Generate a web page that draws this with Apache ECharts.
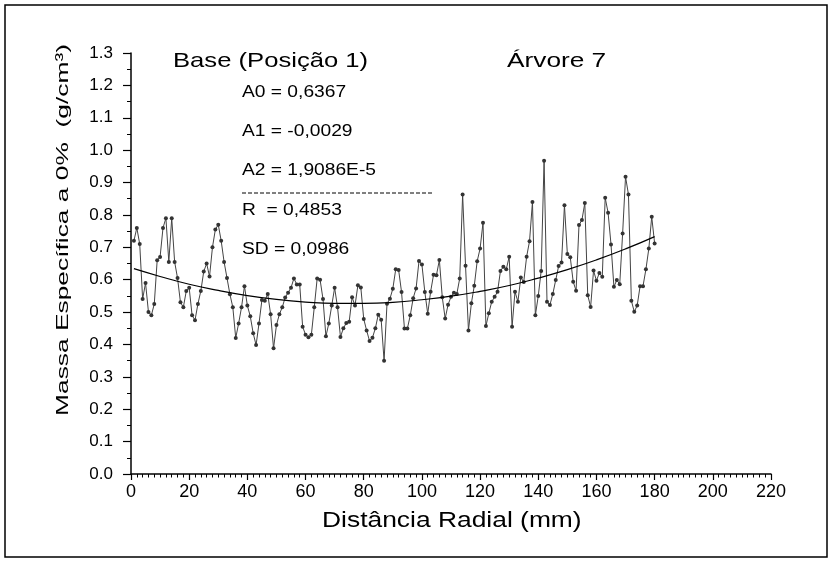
<!DOCTYPE html>
<html>
<head>
<meta charset="utf-8">
<script src="https://cdn.jsdelivr.net/npm/echarts@6/dist/echarts.min.js"></script>
<style>
html,body{margin:0;padding:0;background:#fff;}
#chart{width:830px;height:562px;}
</style>
</head>
<body>
<div id="chart"></div>
<script>
// Distância radial (mm)
const distancia = [1,2,3,4,5,6,7,8,9,10,11,12,13,14,15,16,17,18,19,20,
21,22,23,24,25,26,27,28,29,30,31,32,33,34,35,36,37,38,39,40,
41,42,43,44,45,46,47,48,49,50,51,52,53,54,55,56,57,58,59,60,
61,62,63,64,65,66,67,68,69,70,71,72,73,74,75,76,77,78,79,80,
81,82,83,84,85,86,87,88,89,90,91,92,93,94,95,96,97,98,99,100,
101,102,103,104,105,106,107,108,109,110,111,112,113,114,115,116,117,118,119,120,
121,122,123,124,125,126,127,128,129,130,131,132,133,134,135,136,137,138,139,140,
141,142,143,144,145,146,147,148,149,150,151,152,153,154,155,156,157,158,159,160,
161,162,163,164,165,166,167,168,169,170,171,172,173,174,175,176,177,178,179,180];
// Massa específica a 0% (g/cm³)
const massa = [0.72,0.76,0.71,0.54,0.59,0.50,0.49,0.525,0.66,0.67,
0.76,0.79,0.655,0.79,0.655,0.605,0.53,0.515,0.565,0.575,
0.49,0.475,0.525,0.565,0.625,0.65,0.61,0.70,0.755,0.77,
0.72,0.655,0.605,0.555,0.515,0.42,0.465,0.515,0.58,0.52,
0.487,0.435,0.398,0.465,0.537,0.535,0.556,0.493,0.388,0.46,
0.493,0.515,0.545,0.56,0.575,0.604,0.585,0.585,0.455,0.43,
0.422,0.43,0.515,0.604,0.60,0.54,0.425,0.465,0.52,0.575,
0.515,0.423,0.45,0.466,0.47,0.546,0.52,0.583,0.576,0.479,
0.443,0.411,0.421,0.45,0.492,0.476,0.35,0.526,0.541,0.572,
0.632,0.63,0.562,0.449,0.449,0.49,0.543,0.573,0.658,0.647,
0.562,0.495,0.563,0.615,0.614,0.661,0.546,0.48,0.523,0.547,
0.56,0.556,0.604,0.863,0.643,0.443,0.527,0.581,0.657,0.696,
0.776,0.457,0.496,0.532,0.547,0.563,0.627,0.64,0.632,0.671,
0.455,0.563,0.532,0.607,0.593,0.671,0.719,0.84,0.49,0.55,
0.627,0.967,0.532,0.522,0.556,0.599,0.642,0.653,0.83,0.679,
0.669,0.594,0.566,0.769,0.784,0.837,0.552,0.516,0.628,0.597,
0.621,0.609,0.853,0.807,0.709,0.578,0.599,0.586,0.743,0.918,
0.863,0.535,0.501,0.52,0.58,0.58,0.632,0.696,0.794,0.712];
const ajusteX = [1,10,20,30,40,50,60,70,80,90,100,110,120,130,140,150,160,170,180];
const ajusteY = [0.634,0.610,0.586,0.567,0.551,0.539,0.531,0.527,0.527,0.530,0.538,0.549,0.564,0.582,0.605,0.631,0.661,0.695,0.733];

const titulo = "Base (Posição 1)";
const arvore = "Árvore 7";
const coeficientes = ["A0 = 0,6367", "A1 = -0,0029", "A2 = 1,9086E-5", "R  = 0,4853", "SD = 0,0986"];
const nomeX = "Distância Radial (mm)";
const nomeY = "Massa Específica a 0%  (g/cm³)";

const font = "'Liberation Sans', Arial, sans-serif";
const chart = echarts.init(document.getElementById('chart'), null, {renderer:'canvas'});

const serie = distancia.map((x, i) => [x, massa[i]]);
const ajuste = ajusteX.map((x, i) => [x, ajusteY[i]]);

const coefY = [92.5, 132, 171, 211, 250];
const graphics = [
  {type:'rect', shape:{x:5, y:5, width:822, height:552}, style:{fill:'none', stroke:'#000', lineWidth:1.5}, silent:true},
  {type:'text', x:173, y:61, scaleX:1.22, style:{text:titulo, font:'21px ' + font, fill:'#000', textVerticalAlign:'middle'}},
  {type:'text', x:507, y:61, scaleX:1.25, style:{text:arvore, font:'21px ' + font, fill:'#000', textVerticalAlign:'middle'}},
  {type:'line', shape:{x1:242, y1:193, x2:433, y2:193}, style:{stroke:'#000', lineWidth:1, lineDash:[4,2]}},
  {type:'text', x:322, y:521, scaleX:1.2, style:{text:nomeX, font:'22px ' + font, fill:'#000', textVerticalAlign:'middle'}},
  {type:'text', x:63, y:230, rotation:Math.PI/2, scaleX:1.55, style:{text:nomeY, font:'17px ' + font, fill:'#000', textAlign:'center', textVerticalAlign:'middle'}}
];
coeficientes.forEach((t, i) => {
  graphics.push({type:'text', x:242, y:coefY[i], scaleX:1.2, style:{text:t, font:'16px ' + font, fill:'#000', textVerticalAlign:'middle'}});
});

chart.setOption({
  animation:false,
  backgroundColor:'#fff',
  grid:{left:131, top:53, right:59, bottom:88, containLabel:false},
  xAxis:{
    type:'value', min:0, max:220, interval:20,
    axisLine:{show:true, onZero:false, lineStyle:{color:'#000', width:1.5}},
    axisTick:{show:true, length:6, lineStyle:{color:'#000', width:1.2}},
    minorTick:{show:true, splitNumber:10, length:3.5, lineStyle:{color:'#000', width:1}},
    splitLine:{show:false},
    axisLabel:{color:'#000', fontSize:18, fontFamily:font, margin:9}
  },
  yAxis:{
    type:'value', min:0, max:1.3, interval:0.1,
    axisLine:{show:true, onZero:false, lineStyle:{color:'#000', width:1.5}},
    axisTick:{show:true, length:8, lineStyle:{color:'#000', width:1.2}},
    minorTick:{show:true, splitNumber:2, length:4, lineStyle:{color:'#000', width:1}},
    splitLine:{show:false},
    axisLabel:{color:'#000', fontSize:17, fontFamily:font, margin:18, formatter:v => v.toFixed(1)}
  },
  series:[
    {type:'line', data:serie, symbol:'circle', symbolSize:4, showSymbol:true,
     itemStyle:{color:'#333'}, lineStyle:{color:'#444', width:1}, z:2},
    {type:'line', data:ajuste, smooth:true, symbol:'none', lineStyle:{color:'#000', width:1.2}, z:3}
  ],
  graphic:graphics
});
</script>
</body>
</html>
